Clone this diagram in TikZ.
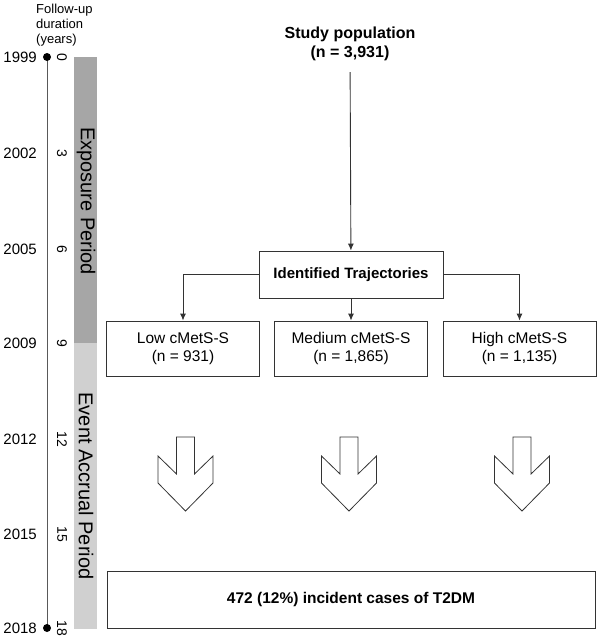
\documentclass[tikz,border=0pt]{standalone}
\usepackage{fontspec}
\setmainfont{Liberation Sans}
\usetikzlibrary{arrows.meta}
\definecolor{expogray}{HTML}{A6A6A6}
\definecolor{eventgray}{HTML}{D0D0D0}
\tikzset{
  box/.style={draw=black!80, line width=0.9pt, fill=white, align=center, inner sep=0pt,
    font=\fontsize{15.5}{18}\selectfont},
  link/.style={draw=black!80, line width=0.9pt, -{Latex[length=7pt,width=6pt]}},
  year/.style={anchor=east, inner sep=0pt, font=\fontsize{15}{18}\selectfont},
  dur/.style={rotate=-90, inner sep=0pt, font=\fontsize{14}{16}\selectfont},
  period/.style={rotate=-90, inner sep=0pt, font=\fontsize{20}{24}\selectfont},
}
\begin{document}
\begin{tikzpicture}[x=1pt,y=-1pt]
\useasboundingbox (0,0) rectangle (597,638);

% time line
\node[anchor=west, align=left, inner sep=0pt, font=\fontsize{13}{15}\selectfont] (fu) at (36,25) {Follow-up\\duration\\(years)};
\draw[color=black!65, line width=1pt] (47,57) -- (47,628);%
\fill (47,57) circle (4);
\fill (47,628) circle (4);

\node[year] (y1999) at (37,57) {1999};
\node[year] (y2002) at (37,153) {2002};
\node[year] (y2005) at (37,249) {2005};
\node[year] (y2009) at (37,343) {2009};
\node[year] (y2012) at (37,439) {2012};
\node[year] (y2015) at (37,534) {2015};
\node[year] (y2018) at (37,628) {2018};

\node[dur] (d0) at (62,57) {0};
\node[dur] (d3) at (62,153) {3};
\node[dur] (d6) at (62,249) {6};
\node[dur] (d9) at (62,343) {9};
\node[dur] (d12) at (62,439) {12};
\node[dur] (d15) at (62,534) {15};
\node[dur] (d18) at (62,628) {18};

% periods
\fill[expogray] (74,57) rectangle (97,343);
\fill[eventgray] (74,343) rectangle (97,629);
\node[period] (expo) at (86,201) {Exposure Period};
\node[period] (event) at (86,486) {Event Accrual Period};

% flow chart
\node[align=center, inner sep=0pt, font=\fontsize{16}{19}\selectfont\bfseries] (pop) at (350,44) {Study population\\(n = 3,931)};
\node[box, minimum width=184, minimum height=47, font=\fontsize{15}{18}\selectfont\bfseries] (traj) at (351,274.5) {Identified Trajectories};
\node[box, minimum width=153, minimum height=55] (low) at (183,348.5) {Low cMetS-S\\(n = 931)};
\node[box, minimum width=153, minimum height=55] (med) at (351,348.5) {Medium cMetS-S\\(n = 1,865)};
\node[box, minimum width=153, minimum height=55] (high) at (519.5,348.5) {High cMetS-S\\(n = 1,135)};
\node[box, minimum width=488, minimum height=57, font=\fontsize{15.5}{18}\selectfont\bfseries] (cases) at (351,599.5) {472 (12\%) incident cases of T2DM};

\draw[link, shorten <=11pt] (pop) -- (traj);
\draw[link] (traj.west) -| (low.north);
\draw[link] (traj) -- (med);
\draw[link] (traj.east) -| (high.north);

% block arrows
\draw[color=black!80, line width=0.8pt] (176.5,437) -- (194.5,437) -- (194.5,474) -- (213,456) -- (213,483) -- (185.5,511) -- (158,483) -- (158,456) -- (176.5,474) -- cycle;
\draw[color=black!80, line width=0.8pt] (340,437) -- (358,437) -- (358,474) -- (376.5,456) -- (376.5,483) -- (349,511) -- (321.5,483) -- (321.5,456) -- (340,474) -- cycle;
\draw[color=black!80, line width=0.8pt] (513,437) -- (531,437) -- (531,474) -- (549.5,456) -- (549.5,483) -- (522,511) -- (494.5,483) -- (494.5,456) -- (513,474) -- cycle;

\end{tikzpicture}
\end{document}
